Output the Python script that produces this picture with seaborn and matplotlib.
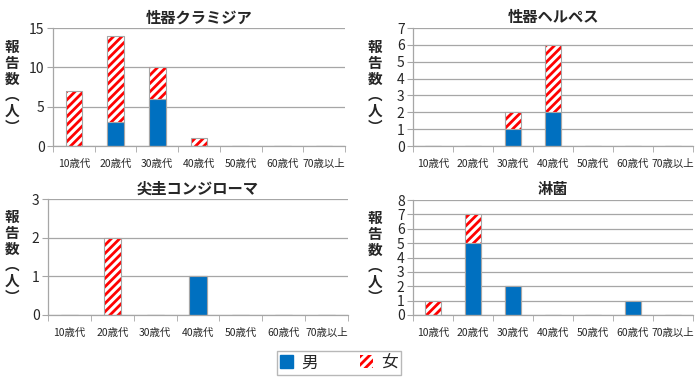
import matplotlib
matplotlib.use("Agg")
import matplotlib.pyplot as plt
from matplotlib.patches import Patch
import numpy as np
import seaborn as sns

ages = ['10歳代', '20歳代', '30歳代', '40歳代', '50歳代', '60歳代', '70歳以上']

titles = ['性器クラミジア', '性器ヘルペス', '尖圭コンジローマ', '淋菌']
male = [
    [0, 3, 6, 0, 0, 0, 0],
    [0, 0, 1, 2, 0, 0, 0],
    [0, 0, 0, 1, 0, 0, 0],
    [0, 5, 2, 0, 0, 1, 0],
]
female = [
    [7, 11, 4, 1, 0, 0, 0],
    [0, 0, 1, 4, 0, 0, 0],
    [0, 2, 0, 0, 0, 0, 0],
    [1, 2, 0, 0, 0, 0, 0],
]
ymax = [15, 7, 3, 8]
ystep = [5, 1, 1, 1]

sns.set_style('white')
plt.rcParams['font.family'] = ['Noto Sans CJK JP', 'DejaVu Sans']
plt.rcParams['hatch.linewidth'] = 2.0

blue = '#0070c0'
red = '#ff0000'
grey = '#a6a6a6'

fig = plt.figure(figsize=(7, 3.78), dpi=100)
W, H = 700, 378
# axes boxes in pixels: left, top, right, bottom
boxes = [(53, 28, 345, 146), (413, 28, 693, 146),
         (48, 199, 348, 315), (413, 200, 693, 315)]
ylab_x = [12, 375, 12, 375]

for i in range(4):
    l, t, r, b = boxes[i]
    ax = fig.add_axes([l / W, 1 - b / H, (r - l) / W, (b - t) / H])
    total = np.array(male[i]) + np.array(female[i])

    # female on top: hatched total bar, then solid male bar over it
    sns.barplot(x=ages, y=total, order=ages, ax=ax, width=0.4,
                color='white', edgecolor=red, hatch='////', linewidth=0,
                errorbar=None)
    sns.barplot(x=ages, y=total, order=ages, ax=ax, width=0.4,
                fill=False, edgecolor=grey, linewidth=0.8, errorbar=None)
    sns.barplot(x=ages, y=male[i], order=ages, ax=ax, width=0.4,
                color=blue, saturation=1, edgecolor=grey, linewidth=0.8,
                errorbar=None)

    ax.set_ylim(0, ymax[i])
    ax.set_yticks(np.arange(0, ymax[i] + 1, ystep[i]))
    ax.set_xlim(-0.5, 6.5)
    ax.yaxis.grid(True, color=grey, linewidth=0.9)
    ax.set_axisbelow(True)
    for s in ['top', 'right']:
        ax.spines[s].set_visible(False)
    for s in ['left', 'bottom']:
        ax.spines[s].set_color(grey)
        ax.spines[s].set_linewidth(0.9)
    ax.tick_params(axis='y', left=True, length=4, color=grey, labelsize=10, pad=2)
    ax.set_xticks(np.arange(-0.5, 7, 1), minor=True)
    ax.tick_params(axis='x', which='minor', bottom=True, length=4, color=grey)
    ax.tick_params(axis='x', which='major', bottom=False, labelsize=7.5, pad=6)
    ax.set_xlabel('')
    ax.set_ylabel('')
    ax.set_title(titles[i], fontsize=11, fontweight='bold', pad=4)

    fig.text(ylab_x[i] / W, 1 - ((t + b) / 2) / H, '報\n告\n数\n︵\n人\n︶',
             ha='center', va='center', fontsize=10.5, fontweight='bold',
             linespacing=1.0)

handles = [Patch(facecolor=blue, edgecolor=blue),
           Patch(facecolor='white', edgecolor=red, hatch='////', linewidth=0)]
fig.legend(handles, ['男', '女'], loc='center', bbox_to_anchor=(339 / W, 1 - 363 / H),
           ncol=2, fontsize=12, frameon=True, fancybox=False, edgecolor=grey,
           handlelength=0.8, handleheight=0.8, columnspacing=2.5, handletextpad=0.5,
           borderpad=0.2)

fig.savefig('out.png', dpi=100)
